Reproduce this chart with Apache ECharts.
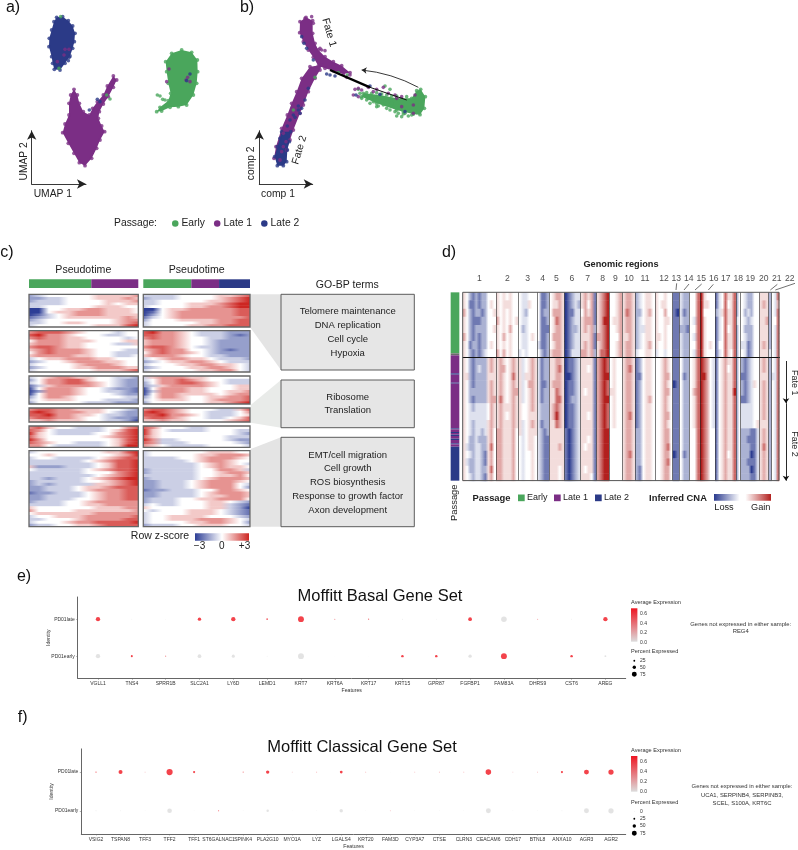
<!DOCTYPE html>
<html><head><meta charset="utf-8">
<style>html,body{margin:0;padding:0;background:#fff}#c{width:798px;height:850px}</style>
<script src="https://cdn.jsdelivr.net/npm/echarts@6/dist/echarts.min.js"></script>
</head><body><div id="c"></div>
<script>
const FONT='"Liberation Sans",Arial,sans-serif';
const GREEN='#4aa65c',PURPLE='#7b2e85',NAVY='#2b3a87';
// ---------- panel a, b : cell embeddings (units: 1/3 px) ----------
const aLate2Outline=[[170,52],[188,50],[205,62],[218,78],[225,100],[223,125],[218,145],[210,168],[195,190],[180,210],[163,208],[158,190],[155,170],[147,140],[148,115],[155,90],[162,65]];
const aLate1Outline=[[222,268],[232,285],[238,310],[250,335],[268,345],[278,325],[292,305],[310,285],[322,258],[340,228],[350,240],[340,262],[325,290],[310,312],[298,335],[295,355],[305,378],[314,395],[300,420],[290,445],[275,475],[255,497],[238,488],[222,460],[205,430],[188,398],[195,372],[207,345],[207,310],[212,285]];
const aEarlyOutline=[[497,185],[515,160],[545,150],[575,157],[592,180],[593,215],[590,250],[580,285],[560,315],[535,320],[510,322],[485,333],[470,335],[480,322],[505,302],[512,280],[505,250],[500,215]];
const bArm1Outline=[[900,65],[918,52],[938,62],[938,100],[945,130],[955,150],[975,170],[1000,185],[1025,197],[1050,218],[1030,222],[1000,212],[975,205],[955,198],[940,172],[925,150],[910,125],[899,98]];
const bArm2Outline=[[965,195],[960,210],[945,235],[925,275],[910,315],[900,340],[880,390],[870,420],[860,450],[840,480],[822,475],[828,440],[845,385],[862,345],[875,310],[890,275],[905,235],[930,200]];
const bTipOutline=[[845,395],[872,395],[868,425],[862,450],[860,485],[850,497],[832,497],[824,470],[832,440],[840,415]];
const bEarlyOutline=[[1250,272],[1262,268],[1276,290],[1273,325],[1260,344],[1240,342],[1210,335],[1190,330],[1130,310],[1085,290],[1090,280],[1140,285],[1190,295],[1235,295]];
const earlyExtra=[[472,285],[480,288],[488,298],[495,300],[320,285],[330,297],[182,50],[177,205],[1015,218],[1155,258],[1170,268],[1075,268],[1095,285],[1130,320],[1150,315],[1190,348],[1205,350],[1225,348],[1170,330],[1120,305],[1100,300],[1185,335],[1210,342],[1235,345],[1085,295],[1110,310],[1160,300],[1200,318],[880,330],[945,232],[1042,225],[1125,290],[1145,305],[1175,310],[1215,340],[1250,338],[1100,278],[1115,280],[1130,278],[1145,282],[1160,285],[1175,288],[1190,288],[1105,295],[1080,280],[1135,318],[1160,325],[1195,340],[1220,290],[1205,296]];
const late1Extra=[[507,207],[500,245],[558,240],[570,245],[563,232],[195,148],[207,148],[172,185],[192,165],[935,50],[915,55],[940,70],[965,150],[975,152],[960,145],[850,400],[868,385],[850,440],[858,425],[845,455],[880,370],[1065,268],[1075,265],[1085,270],[1105,262],[1130,268],[1150,262],[1120,275],[1165,280],[1185,285],[1205,320],[1240,340],[1245,285],[1240,315],[1190,295],[1060,285],[1075,290],[1050,225],[1040,232],[1205,290]];
const late2Extra=[[570,222],[560,242],[292,298],[268,330],[300,305],[905,325],[895,330],[880,345],[870,360],[885,352],[862,378],[900,340],[915,300],[925,265],[895,318],[905,110],[912,130],[920,145],[940,180],[980,222],[990,225],[1005,228],[1068,285],[1110,258],[1215,335],[1140,283],[208,172],[205,182]];
const trajectoryThick=[[990,210],[1110,262]];
const trajectoryThin=[[1110,262],[1220,300]];
const directionArrow=[[1255,262],[1085,210]];
// ---------- panel c : pseudotime bars and gene heatmaps (digit 0..8, 4 = z 0) ----------
const pseudoLeft=[57,43,0];
const pseudoRight=[45,26,29];
const c1L=['234444455556','223344455565','233344445556','333344445455','334444455544','004455665554','004556665554','013456665555','123455555565','234444444566','334455444567','344444455578'];
const c1R=['333344445567','233344445678','334444455678','334445556788','344445566788','004556666677','014566666677','024566666677','134566666667','244455556677','344444556677','344445566777'];
const c2L=['677765444344','786654443344','676655444434','466655544455','566655444335','677655444444','567666544433','467666544333','566665544334','345566655444','234456665544','344445666544','234445566655','344444455567'];
const c2R=['786654333222','776654333212','676654433222','566654432222','566654432222','677654332222','567664432122','467665432222','566654433222','345665543332','234556654333','344455665543','234445566543','344444556643'];
const c3L=['345665544332','246677544322','346677654322','135666654322','046665443221','026665443321','046665444322','246654444433','345554443332','244444333222'];
const c3R=['356665544444','346676544333','246677654333','235666654455','046665544455','036665544556','046655554566','246654455667','345554456667','244444455678'];
const c4L=['677665554432','787666554322','778665543322','677665443221','556555443320'];
const c4R=['677654443357','787654433346','778665433345','677654433457','556554444567'];
const c5L=['675443334467','764333334578','854333344678','754444445678','864444444578','765443334578','664333334588'];
const c5R=['764443344444','854333344433','854444444432','754444444333','863344444322','763334444432','654333344443'];
const c6L=['344444445578','445444444568','344333345677','333333456778','333333345778','522233345778','433333456778','333333444678','333333345678','332333456788','233333445678','232333355678','223334556777','223334566677','122333456677','223333456677','223334456677','233344566666','333344556666','544444455566','644445555556','455555566666','344555666667','334445666677','344456677778','233445567777'];
const c6R=['344444455544','344444556665','333344566654','333334566544','333333456543','333333456554','233333446653','233333445665','333333445564','233333456665','223334566654','223334566643','223334566642','122333446654','223333456665','223333455665','233344556664','233344455432','343344455321','544444455320','434445554321','344445554321','344555544432','344555666543','344445566542','233344555443'];
const goTerms=[['Telomere maintenance','DNA replication','Cell cycle','Hypoxia'],['Ribosome','Translation'],['EMT/cell migration','Cell growth','ROS biosynthesis','Response to growth factor','Axon development']];
// ---------- panel d : inferred CNA (units: 1/3 px; digit 0..8, 4 = neutral) ----------
const chromEdges=[98,198,265,322,358,403,452,500,538,577,615,675,728,748,778,810,855,918,932,988,1016,1025,1048];
const chromNames=['1','2','3','4','5','6','7','8','9','10','11','12','13','14','15','16','17','18','19','20','21','22'];
const chromLabelX=[148,232,293,338,379,426,473,518,556,597,645,702,739,776,814,851,887,925,961,1001,1040,1079];
const leaderLines=[[[740,130],[738,150]],[[777,132],[762,150]],[[815,132],[795,150]],[[850,133],[835,150]],[[1042,133],[1021,150]],[[1095,130],[1036,150]]];
const dRowEdges=[157,181,206,230,255,279,303,328,352,375,398,421,444,467,490,515,540,565,587,610,632,655,677,700,722];
const dRows=[
'54212122444 5454544 433444 4112 45665 01233 56561 5678 4456 5665 234554 544544 11 322 447 85444 1347557 24 432244 555 2 437',
'54112122454 5455544 433544 4112 45565 01232 56461 5678 4456 5665 234554 545544 11 322 447 85544 1347457 24 432244 565 2 436',
'64212212445 5454544 432444 4122 46665 01133 46561 5678 4456 5765 224564 544644 10 312 447 84444 2357557 24 423244 555 2 437',
'54211122444 6454545 433444 4112 45765 01233 56661 5688 4556 5665 234554 544554 11 322 437 85444 1347557 34 432344 556 2 447',
'54212222445 5454644 423444 4111 45665 01223 56562 5678 4456 5665 233554 544544 11 221 447 85444 1347457 24 422244 555 2 437',
'64212122444 5464544 433454 4112 46665 01233 55561 6678 4446 5565 234554 554544 11 322 437 85444 1347557 24 432244 555 2 437',
'54122122454 5454544 433444 3112 45665 01233 56561 5678 4456 5665 234564 544544 11 322 447 85454 1447557 24 331244 565 2 437',
'54212123444 6464544 343444 4212 56665 01333 66562 5778 4456 5665 344554 344344 11 322 437 85444 1347547 24 431244 555 3 437',
'54212222565 5654565 534565 3122 55665 01123 55551 6787 4544 5665 124554 445654 11 422 457 87643 1456557 24 212344 565 2 437',
'54212322565 5664565 534565 3122 55675 01123 55451 6787 4544 5675 124554 445654 11 422 457 87643 1456457 24 212344 565 2 437',
'55212222555 5654575 535565 3122 55665 00123 55551 6788 4544 5665 114554 445664 11 412 457 88643 1456557 24 112344 555 2 337',
'54212222565 5654565 534665 3112 56665 01123 55551 6787 4544 5665 124554 445654 01 422 457 87643 1456557 24 212354 565 2 437',
'54222222565 5654566 534565 3122 55765 01123 54551 6787 5544 5665 124554 445664 11 422 467 87643 1456558 24 212344 565 2 437',
'54212222566 5754565 534565 3122 55775 01223 55551 6788 4544 5665 124564 445654 11 422 457 87643 1456557 24 112344 565 2 437',
'54323333465 5655565 544565 3222 56765 01123 55551 6787 4544 5665 124554 445654 11 422 457 87643 1456557 24 333344 565 2 437',
'54333333465 5654565 544555 3222 56865 01123 55451 6787 4544 5675 124554 445664 11 422 457 87643 1456557 24 333344 565 2 437',
'54323333565 5655565 534565 3122 55765 01123 55551 6787 4544 5665 124554 445654 11 422 457 87643 1456557 24 333345 555 2 437',
'54323323564 6655564 534555 3212 55555 10123 55551 6788 4444 5665 224554 445664 11 422 447 87644 1456557 24 222113 565 2 437',
'54223222564 6655564 434554 3211 55555 10123 55451 6788 4444 5665 224554 445664 11 422 447 87644 1456557 24 221113 565 2 437',
'53223322574 6655564 434554 3211 55565 10123 54551 6788 4444 5665 224554 445674 11 422 447 87644 1456557 24 222113 575 2 437',
'54323321564 6655564 434454 3211 55555 10123 55551 6788 4444 5675 224554 445664 01 412 447 87644 1456457 24 222013 565 2 437',
'53223321564 6655564 434454 3211 55555 10123 55551 6788 4444 5665 224554 445674 11 422 447 87644 1456557 24 221113 565 2 437',
'54223322574 6655564 434454 3211 55545 10123 54551 6788 4444 5665 214554 445664 11 422 447 87644 1456557 24 222013 565 2 437',
'54323321564 6655564 434454 3211 55545 10123 55541 6788 4444 5665 214554 445664 11 422 447 87644 1456557 24 222113 565 2 437'];
const passageSegments=[[157,340,GREEN],[340,346,'#6b6b6b'],[346,400,PURPLE],[400,404,NAVY],[404,428,PURPLE],[428,431,NAVY],[431,565,PURPLE],[565,568,NAVY],[568,576,PURPLE],[576,579,NAVY],[579,584,PURPLE],[584,588,NAVY],[588,596,PURPLE],[596,600,NAVY],[600,610,PURPLE],[610,613,NAVY],[613,620,PURPLE],[620,722,NAVY]];
// ---------- panel e, f : dot plots ----------
const basalGenes=['VGLL1','TNS4','SPRR1B','SLC2A1','LY6D','LEMD1','KRT7','KRT6A','KRT17','KRT15','GPR87','FGFBP1','FAM83A','DHRS9','CST6','AREG'];
const basalLatePct=[65,5,2,50,65,22,90,12,14,10,5,55,85,10,8,65];
const basalLateExp=[.7,0,0,.7,.7,.6,.7,.4,.5,0,0,.7,0,.5,0,.7];
const basalEarlyPct=[65,28,12,55,45,5,90,3,3,35,35,50,90,2,35,25];
const basalEarlyExp=[0,.7,.4,0,0,0,0,0,0,.7,.7,0,.7,0,.7,0];
const classicalGenes=['VSIG2','TSPAN8','TFF3','TFF2','TFF1','ST6GALNAC1','SPINK4','PLA2G10','MYO1A','LYZ','LGALS4','KRT20','FAM3D','CYP3A7','CTSE','CLRN3','CEACAM6','CDH17','BTNL8','ANXA10','AGR3','AGR2'];
const classicalLatePct=[15,60,8,95,30,1,12,50,8,8,40,8,2,8,10,8,85,8,8,30,75,80];
const classicalLateExp=[.6,.7,.4,.7,.7,0,.5,.7,.3,.6,.7,.5,0,.4,.5,.5,.7,.3,.5,.7,.7,.7];
const classicalEarlyPct=[10,8,3,70,3,12,3,35,2,2,50,2,8,2,2,2,75,3,3,8,75,80];
const classicalEarlyExp=[0,0,0,0,0,.6,0,0,0,0,0,0,.4,0,0,0,0,0,0,0,0,0];
const identities=['PD01early','PD01late'];
// ---------- helpers ----------
const grids=[],xAxes=[],yAxes=[],series=[],gfx=[];
function mix(a,b,t){return 'rgb('+a.map((v,i)=>Math.round(v+(b[i]-v)*t)).join(',')+')';}
function cnaColor(d){const t=(d-4)/4,s=Math.pow(Math.abs(t),1.35);return t<0?mix([255,255,255],[42,58,142],s):mix([255,255,255],[178,32,30],s);}
function zColor(d){const t=(d-4)/4;return t<0?mix([255,255,255],[45,62,150],-t):mix([255,255,255],[205,38,34],t);}
function exprColor(e){return mix([220,220,220],[240,20,30],Math.min(1,e/.65));}
function pctSize(p){return .3+p*.062;}
function addGrid(l,t,w,h,xa,ya){const i=grids.length;grids.push({left:l,top:t,width:w,height:h,containLabel:false,show:false});
 xAxes.push(Object.assign({gridIndex:i,show:false,type:'value'},xa));yAxes.push(Object.assign({gridIndex:i,show:false,type:'value'},ya));return i;}
function text(x,y,s,size,o){o=o||{};gfx.push({type:'text',x:x,y:y,rotation:(o.rot||0)*Math.PI/180,z:120,silent:true,style:{text:s,fill:o.color||'#222',font:(o.weight?o.weight+' ':'')+size+'px '+FONT,textAlign:o.align||'center',textVerticalAlign:'middle',textBaseline:'middle'}});}
function rect(x,y,w,h,style,z){gfx.push({type:'rect',shape:{x:x,y:y,width:w,height:h},z:z||1,silent:true,style:style});}
function poly(pts,fill){gfx.push({type:'polygon',shape:{points:pts},z:0,silent:true,style:{fill:fill}});}
function gradBar(x,y,w,h,stops,dir){rect(x,y,w,h,{fill:{type:'linear',x:0,y:0,x2:dir==='v'?0:1,y2:dir==='v'?1:0,colorStops:stops}},5);}
// ---------- a, b ----------
const ab=addGrid(0,0,440,240,{min:0,max:1320},{min:0,max:720,inverse:true});
function blob(name,outline,color){
 series.push({type:'custom',name:name,xAxisIndex:ab,yAxisIndex:ab,z:2,silent:true,clip:false,itemStyle:{color:color},data:[[outline[0][0],outline[0][1]]],
  renderItem:(p,api)=>({type:'polygon',shape:{points:outline.map(q=>api.coord(q))},style:{fill:color}})});
 series.push({type:'scatter',name:name,xAxisIndex:ab,yAxisIndex:ab,z:3,silent:true,clip:false,symbolSize:3.8,itemStyle:{color:color},data:outline});
}
blob('Late 2',aLate2Outline,NAVY);blob('Late 1',aLate1Outline,PURPLE);blob('Early',aEarlyOutline,GREEN);
blob('Late 1',bArm1Outline,PURPLE);blob('Late 1',bArm2Outline,PURPLE);blob('Late 2',bTipOutline,NAVY);blob('Early',bEarlyOutline,GREEN);
[['Early',earlyExtra,GREEN],['Late 1',late1Extra,PURPLE],['Late 2',late2Extra,NAVY]].forEach(s=>series.push({type:'scatter',name:s[0],xAxisIndex:ab,yAxisIndex:ab,z:4,silent:true,clip:false,symbolSize:3.6,itemStyle:{color:s[2]},data:s[1]}));
function linesSeries(i,items,z){series.push({type:'lines',coordinateSystem:'cartesian2d',xAxisIndex:i,yAxisIndex:i,z:z||6,silent:true,clip:false,polyline:false,lineStyle:{opacity:1},data:items});}
linesSeries(ab,[
 {coords:trajectoryThick,lineStyle:{color:'#000',width:2.4,opacity:1}},
 {coords:trajectoryThin,lineStyle:{color:'#111',width:1,opacity:1}}]);
series.push({type:'lines',coordinateSystem:'cartesian2d',xAxisIndex:ab,yAxisIndex:ab,z:6,silent:true,clip:false,symbol:['none','arrow'],symbolSize:5,
 data:[{coords:directionArrow,lineStyle:{color:'#222',width:.9,opacity:1,curveness:-.1}}]});
function arrowAxes(l,w,xn,yn,px,py){const t=130.7,h=53.3;
 const ax={show:true,min:0,max:1,axisTick:{show:false},axisLabel:{show:false},splitLine:{show:false},axisLine:{show:true,onZero:false,symbol:['none','arrow'],symbolSize:[7,9],lineStyle:{color:'#222',width:.9}},nameLocation:'middle'};
 const ns=p=>({fontFamily:FONT,fontSize:10.3,color:'#222',padding:p});
 addGrid(l,t,w,h,Object.assign({},ax,{name:xn,nameGap:5,nameTextStyle:ns([0,px,0,0])}),Object.assign({},ax,{name:yn,nameGap:3,nameTextStyle:ns([0,py,0,0])}));}
arrowAxes(31.7,54.3,'UMAP 1','UMAP 2',12,8);arrowAxes(259.3,53.4,'comp 1','comp 2',16,12);
text(329,32.5,'Fate 1',10.4,{rot:-74});text(299.5,150,'Fate 2',10.4,{rot:73});
text(135.5,222.8,'Passage:',10.3);
// ---------- c ----------
function pseudoBar(l,w,v){const i=addGrid(l,279.3,w,8.7,{min:0,max:100},{type:'category',data:['Pseudotime']});
 ['Early','Late 1','Late 2'].forEach((n,k)=>series.push({type:'bar',name:n,stack:'p'+i,xAxisIndex:i,yAxisIndex:i,barWidth:'100%',silent:true,itemStyle:{color:[GREEN,PURPLE,NAVY][k]},data:[v[k]]}));}
pseudoBar(29,109.3,pseudoLeft);pseudoBar(143.3,106.7,pseudoRight);
function heat(rows,l,w,t,h){const n=rows.length,m=rows[0].length;
 const i=addGrid(l,t,w,h,{min:0,max:m-1},{min:-.5,max:n-.5,inverse:true});
 series.push({type:'custom',xAxisIndex:i,yAxisIndex:i,silent:true,z:3,clip:true,
  data:rows.map((r,k)=>[k].concat(r.split('').map(Number))),
  renderItem:(p,api)=>{const k=api.value(0),a=api.coord([0,k-.5]),b=api.coord([m-1,k+.5]);const stops=[];
   for(let j=0;j<m;j++)stops.push({offset:j/(m-1),color:zColor(api.value(j+1))});
   return {type:'rect',shape:{x:a[0],y:a[1],width:b[0]-a[0],height:b[1]-a[1]+.6},style:{fill:{type:'linear',x:0,y:0,x2:1,y2:0,colorStops:stops}}};}});
 rect(l,t,w,h,{fill:'none',stroke:'#666',lineWidth:1.3},110);}
const cBlocks=[[c1L,c1R,294.3,32.7],[c2L,c2R,330.7,41.3],[c3L,c3R,376,28],[c4L,c4R,408,14],[c5L,c5R,426,21.3],[c6L,c6R,450.7,76]];
cBlocks.forEach(b=>{heat(b[0],29,109.3,b[2],b[3]);heat(b[1],143.3,106.7,b[2],b[3]);});
poly([[250,294.3],[281,294.3],[281,370],[250,327]],'#e4e4e4');
poly([[250.7,405],[281,380],[281,427.7],[250.7,422.7]],'#e9ebe9');
poly([[250.7,449],[281,437.3],[281,526.7],[250.7,526.7]],'#e4e4e4');
[[294.3,75.7,0,311.5],[380,47.7,1,397],[437.3,89.4,2,455]].forEach(b=>{
 rect(281,b[0],133.3,b[1],{fill:'#e6e6e6',stroke:'#5c5c5c',lineWidth:1},4);
 goTerms[b[2]].forEach((s,k)=>text(347.7,b[3]+k*13.8,s,9.5));});
text(83.3,270,'Pseudotime',10.6);text(196.7,270,'Pseudotime',10.6);text(347.3,285,'GO-BP terms',10.5);
text(160,536.3,'Row z-score',10.5);
gradBar(195,533.3,54,7.4,[{offset:0,color:zColor(0)},{offset:.5,color:'#fff'},{offset:1,color:zColor(8)}]);
text(199.5,546.5,'\u22123',10);text(221.7,546.5,'0',10);text(244.5,546.5,'+3',10);
// ---------- d ----------
const dg=addGrid(430,240,368,310,{min:0,max:1104},{min:0,max:930,inverse:true});
const dSegs=[];
dRows.forEach((row,r)=>row.split(' ').forEach((seg,c)=>dSegs.push({v:[chromEdges[c],chromEdges[c+1],dRowEdges[r],dRowEdges[r+1]],s:seg})));
series.push({type:'custom',xAxisIndex:dg,yAxisIndex:dg,silent:true,z:3,clip:false,data:dSegs.map(c=>c.v),
 renderItem:(p,api)=>{const a=api.coord([api.value(0),api.value(2)]),b=api.coord([api.value(1),api.value(3)]);
  const s=dSegs[p.dataIndex].s,n=s.length;const stops=[];
  for(let j=0;j<n;j++)stops.push({offset:(j+.5)/n,color:cnaColor(+s[j])});
  return {type:'rect',shape:{x:a[0],y:a[1],width:b[0]-a[0],height:b[1]-a[1]+.5},style:{fill:{type:'linear',x:0,y:0,x2:1,y2:0,colorStops:stops}}};}});
series.push({type:'custom',xAxisIndex:dg,yAxisIndex:dg,silent:true,z:3,clip:false,data:passageSegments.map(s=>[s[0],s[1]]),
 renderItem:(p,api)=>{const a=api.coord([62,api.value(0)]),b=api.coord([88,api.value(1)]);
  return {type:'rect',shape:{x:a[0],y:a[1],width:b[0]-a[0],height:b[1]-a[1]},style:{fill:passageSegments[p.dataIndex][2]}};}});
linesSeries(dg,chromEdges.slice(1,-1).map(x=>({coords:[[x,157],[x,722]],lineStyle:{color:'#222',width:.7,opacity:.85}}))
 .concat([{coords:[[98,352],[1050,352]],lineStyle:{color:'#111',width:1,opacity:1}}])
 .concat(leaderLines.map(c=>({coords:c,lineStyle:{color:'#333',width:.7,opacity:1}}))));
series.push({type:'scatter',xAxisIndex:dg,yAxisIndex:dg,symbolSize:0,silent:true,clip:false,z:7,
 data:chromLabelX.map((x,i)=>[x,117,chromNames[i]]),
 label:{show:true,position:'inside',formatter:p=>p.value[2],fontFamily:FONT,fontSize:8.6,color:'#222'}});
series.push({type:'lines',coordinateSystem:'cartesian2d',xAxisIndex:dg,yAxisIndex:dg,z:6,silent:true,clip:false,symbol:['none','arrow'],symbolSize:5,
 data:[[[1068,363],[1068,490]],[[1068,490],[1068,722]]].map(c=>({coords:c,lineStyle:{color:'#111',width:.9,opacity:1}}))});
rect(462.7,292.3,316.3,188.3,{fill:'none',stroke:'#555',lineWidth:1},110);
text(621,264.7,'Genomic regions',9.2,{weight:'bold'});
text(794,382.7,'Fate 1',9,{rot:-90});text(794,444,'Fate 2',9,{rot:-90});
text(454,502.7,'Passage',9.4,{rot:90});
text(491.5,498,'Passage',9.4,{weight:'bold'});
[[518,GREEN,'Early'],[554,PURPLE,'Late 1'],[595,NAVY,'Late 2']].forEach(k=>{rect(k[0],494.5,6.7,6.7,{fill:k[1]},5);text(k[0]+9,498,k[2],9,{align:'left'});});
text(678,498,'Inferred CNA',9.4,{weight:'bold'});
gradBar(714,494,57,6.7,[{offset:0,color:cnaColor(0)},{offset:.45,color:'#fff'},{offset:.55,color:'#fff'},{offset:1,color:cnaColor(8)}]);
text(724,507,'Loss',9.2);text(760.7,507,'Gain',9.2);
// ---------- e, f ----------
function dotPlot(genes,latePct,lateExp,earlyPct,earlyExp,l,w,t,h){
 const idx=genes.map((g,i)=>i);
 const i=addGrid(l,t,w,h,
  {show:true,min:-.6,max:genes.length-.4,name:'Features',nameLocation:'middle',nameGap:10,nameMoveOverlap:false,nameTextStyle:{fontFamily:FONT,fontSize:5.2,color:'#333'},
   splitLine:{show:false},axisLine:{show:true,onZero:false,lineStyle:{color:'#666',width:1}},axisTick:{show:true,length:1.5,customValues:idx,lineStyle:{color:'#666',width:.5}},
   axisLabel:{show:true,customValues:idx,hideOverlap:false,margin:3,interval:0,fontFamily:FONT,fontSize:5,color:'#333',formatter:v=>genes[v]||''}},
  {show:true,min:-.6,max:1.6,name:'Identity',nameLocation:'middle',nameGap:27,nameMoveOverlap:false,nameTextStyle:{fontFamily:FONT,fontSize:5.2,color:'#333'},
   splitLine:{show:false},axisLine:{show:true,onZero:false,lineStyle:{color:'#666',width:1}},axisTick:{show:true,length:1.5,customValues:[0,1],lineStyle:{color:'#666',width:.5}},
   axisLabel:{show:true,customValues:[0,1],margin:3,fontFamily:FONT,fontSize:5,color:'#333',formatter:v=>identities[v]||''}});
 [[1,latePct,lateExp],[0,earlyPct,earlyExp]].forEach(s=>series.push({type:'scatter',xAxisIndex:i,yAxisIndex:i,silent:true,z:4,
  data:genes.map((g,k)=>({value:[k,s[0]],symbolSize:pctSize(s[1][k]),itemStyle:{color:exprColor(s[2][k])}}))}));
}
dotPlot(basalGenes,basalLatePct,basalLateExp,basalEarlyPct,basalEarlyExp,77.7,548,597,81.3);
dotPlot(classicalGenes,classicalLatePct,classicalLateExp,classicalEarlyPct,classicalEarlyExp,81.3,544.4,748.9,85.4);
function dotLegend(ty,barT,barH,ticks,py,dots,notes){
 text(631,ty,'Average Expression',5.6,{align:'left',color:'#333'});
 gradBar(631,barT,6.4,barH,[{offset:0,color:'#ee1622'},{offset:1,color:'#dcdcdc'}],'v');
 ticks.forEach(k=>text(640,k[1],k[0],5,{align:'left',color:'#333'}));
 text(631,py,'Percent Expressed',5.6,{align:'left',color:'#333'});
 dots.forEach(k=>{gfx.push({type:'circle',shape:{cx:634.3,cy:k[1],r:pctSize(k[0])/2},z:5,silent:true,style:{fill:'#000'}});text(640,k[1],String(k[0]),5,{align:'left',color:'#333'});});
 notes.forEach(k=>text(k[0],k[1],k[2],5.9,{color:'#333'}));}
dotLegend(602.7,608.3,33.4,[['0.6',613.3],['0.4',623.3],['0.2',632.7],['0.0',642.3]],651.7,[[25,660.7],[50,667.3],[75,674.3]],[[740.7,624,'Genes not expressed in either sample:'],[740.7,631.7,'REG4']]);
dotLegend(750,756,35.7,[['0.6',762],['0.4',772],['0.2',782],['0.0',791.7]],802,[[0,811.3],[25,818.7],[50,826],[75,833.3]],[[742,786.7,'Genes not expressed in either sample:'],[742,795,'UCA1, SERPINB4, SERPINB3,'],[742,803.7,'SCEL, S100A, KRT6C']]);
// panel letters
[['a)',13,7.5],['b)',247,7.5],['c)',7,253],['d)',449,253],['e)',24,576.7],['f)',22.7,718]].forEach(k=>text(k[1],k[2],k[0],16,{color:'#111'}));
const chart=echarts.init(document.getElementById('c'),null,{renderer:'canvas',width:798,height:850});
chart.setOption({animation:false,backgroundColor:'#fff',textStyle:{fontFamily:FONT},
 title:[{text:'Moffitt Basal Gene Set',left:375,top:583,textAlign:'center',textStyle:{fontFamily:FONT,fontSize:16.5,fontWeight:'normal',color:'#111'}},
        {text:'Moffitt Classical Gene Set',left:357,top:733.5,textAlign:'center',textStyle:{fontFamily:FONT,fontSize:16.5,fontWeight:'normal',color:'#111'}}],
 legend:{data:['Early','Late 1','Late 2'],left:167,top:213.5,itemWidth:6.5,itemHeight:6.5,itemGap:9,icon:'circle',selectedMode:false,textStyle:{fontFamily:FONT,fontSize:10.3,color:'#222',padding:[0,0,0,-2]}},
 grid:grids,xAxis:xAxes,yAxis:yAxes,series:series,graphic:{elements:gfx}});
</script></body></html>
